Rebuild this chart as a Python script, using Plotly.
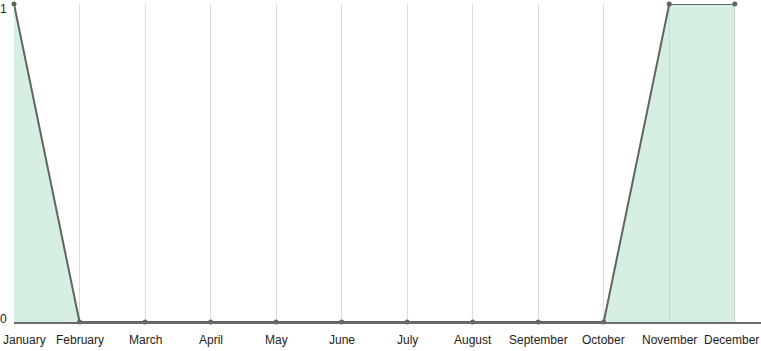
import plotly.graph_objects as go

months = ["January", "February", "March", "April", "May", "June", "July",
          "August", "September", "October", "November", "December"]
values = [1, 0, 0, 0, 0, 0, 0, 0, 0, 0, 1, 1]
y_ticks = [0, 1]

idx = list(range(len(months)))
FONT = dict(family="Liberation Sans, DejaVu Sans, sans-serif", size=12, color="#222")

fig = go.Figure()
fig.add_trace(go.Scatter(
    x=idx, y=values, mode="lines+markers",
    fill="tozeroy", fillcolor="rgba(160,215,185,0.42)",
    line=dict(color="#5e6660", width=2),
    marker=dict(color="#5e6660", size=5),
    hoverinfo="skip", showlegend=False, cliponaxis=False,
))

annotations = []
last = len(months) - 1
for i, m in enumerate(months):
    if i == 0:
        anchor, shift = "left", -13
    elif i == last:
        anchor, shift = "right", 26
    else:
        anchor, shift = "center", 0
    annotations.append(dict(
        x=i, xref="x", y=0, yref="paper", yanchor="top", yshift=-9,
        xanchor=anchor, xshift=shift, text=m, showarrow=False, font=FONT,
    ))
for v in y_ticks:
    annotations.append(dict(
        x=0, xref="paper", y=v, yref="y", xanchor="right", xshift=-5,
        yanchor="middle", yshift=-5 if v == max(y_ticks) else 3,
        text=str(v), showarrow=False, font=FONT,
    ))

fig.update_layout(
    width=761, height=351,
    margin=dict(l=14, r=0, t=4, b=29),
    paper_bgcolor="white", plot_bgcolor="white",
    font=FONT,
    annotations=annotations,
    xaxis=dict(
        tickmode="array", tickvals=idx, showticklabels=False,
        range=[0, 11.4], showgrid=True, gridcolor="#dcdcdc", gridwidth=1,
        showline=True, linecolor="#6a6a6a", linewidth=2, ticks="", zeroline=False,
        automargin=False,
    ),
    yaxis=dict(
        range=[0, 1.0], showgrid=False, zeroline=False, showline=False,
        showticklabels=False, ticks="", automargin=False,
    ),
)
fig.write_html("out.html")
